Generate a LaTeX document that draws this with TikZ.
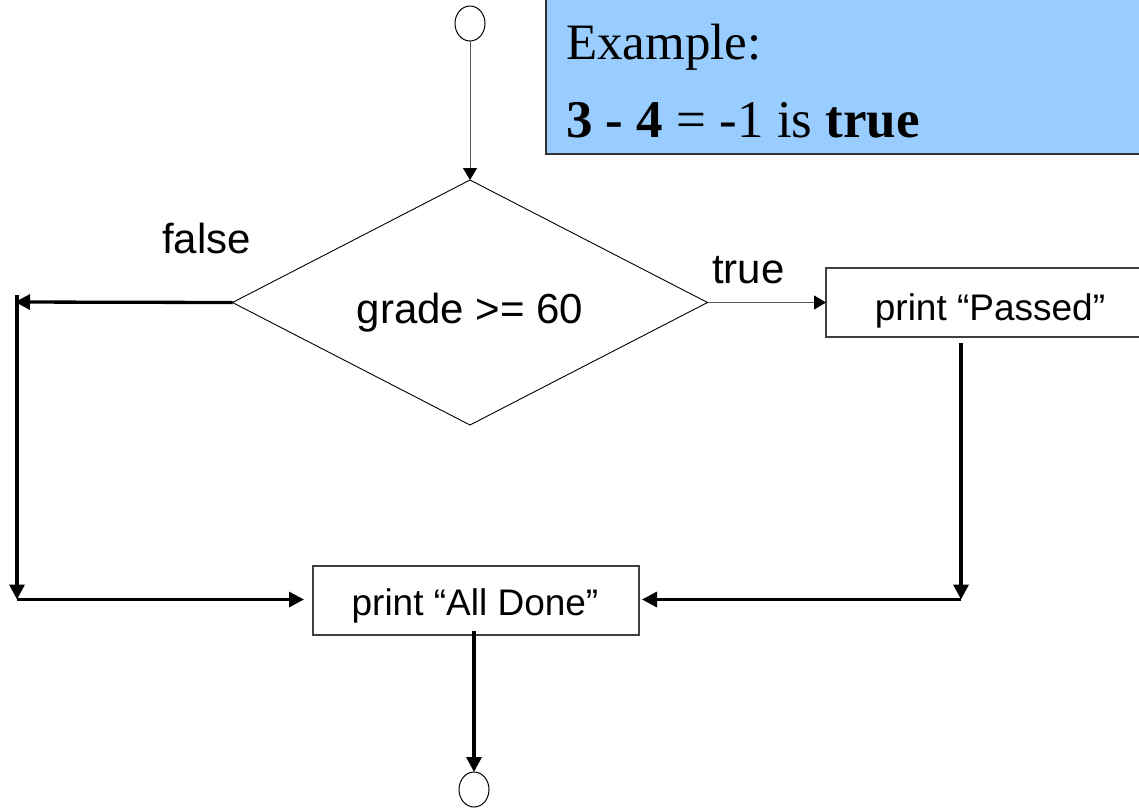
\documentclass[tikz,border=0pt]{standalone}
\usepackage{fontspec}
\setmainfont{Liberation Serif}
\newfontfamily\arial{Liberation Sans}
\usetikzlibrary{shapes.geometric,arrows.meta}
\definecolor{notefill}{HTML}{99CCFF}
\tikzset{
  terminal/.style={ellipse,draw=black,line width=1pt,minimum width=30pt,minimum height=35pt,inner sep=0pt,outer sep=0pt},
  decision/.style={diamond,draw=black,line width=0.9pt,minimum width=475pt,minimum height=245pt,inner sep=0pt,outer sep=0pt,aspect=1.94},
  action/.style={rectangle,draw=black!75,line width=1.2pt,inner sep=0pt,outer sep=0pt},
  bigtxt/.style={font=\arial\fontsize{42}{50}\selectfont,inner sep=0pt,anchor=base},
  boxtxt/.style={font=\arial\fontsize{37}{44}\selectfont,inner sep=0pt,anchor=base},
  notetxt/.style={font=\fontsize{51}{60}\selectfont,inner sep=0pt,anchor=base west},
  thinflow/.style={draw=black!65,line width=1pt,-{Triangle[length=12pt,width=14pt,color=black]}},
  thickflow/.style={draw=black,line width=3.3pt,-{Triangle[length=15pt,width=15pt]}}
}
\begin{document}
\begin{tikzpicture}[x=1pt,y=-1pt]
  \useasboundingbox (0,0) rectangle (1139,807);

  % note box in the upper right corner
  \node[rectangle,draw=black!80,line width=2pt,fill=notefill,minimum width=600pt,minimum height=160pt,anchor=south west,inner sep=0pt] (note) at (545,155) {};
  \node[notetxt] (notel1) at (566,59) {Example:};
  \node[notetxt,font=\fontsize{53}{62}\selectfont] (notel2) at (566,137) {\bfseries 3 - 4 \mdseries = -1 is \bfseries true};

  % flow nodes
  \node[terminal] (start) at (470,23.5) {};
  \node[decision] (dec) at (470,302.5) {};
  \node[bigtxt] (dectxt) at (470,323) {grade >= 60};
  \node[action,minimum width=328pt,minimum height=69pt] (passed) at (990,302.5) {};
  \node[boxtxt] (passedtxt) at (990,320) {print “Passed”};
  \node[action,minimum width=326pt,minimum height=69pt] (done) at (476,600.5) {};
  \node[boxtxt] (donetxt) at (475,615) {print “All Done”};
  \node[terminal] (stop) at (474,789.5) {};

  % branch labels
  \node[bigtxt,anchor=base west] (falsetxt) at (162,253) {false};
  \node[bigtxt,anchor=base west] (truetxt) at (712,283) {true};

  % corner points of the branches
  \coordinate (ltop) at (17,295);
  \coordinate (lhit) at (15,302);
  \coordinate (lbot) at (17,599.5);
  \coordinate (rtop) at (961,343);
  \coordinate (rbot) at (961,599.5);
  \coordinate (dout) at (stop.north |- 0,631);

  % connectors
  \draw[thinflow] (start.south) -- (dec.north);
  \draw[thinflow] (dec.east) -- (passed.west);
  \draw[thickflow] (dec.west) -- (lhit);
  \draw[thickflow] (ltop) -- (lbot);
  \draw[thickflow,shorten >=9pt] (lbot) -- (done.west |- lbot);
  \draw[thickflow] (rtop) -- (rbot);
  \draw[thickflow,shorten >=3pt] (rbot) -- (done.east |- rbot);
  \draw[thickflow] (dout) -- (stop.north);
\end{tikzpicture}
\end{document}
